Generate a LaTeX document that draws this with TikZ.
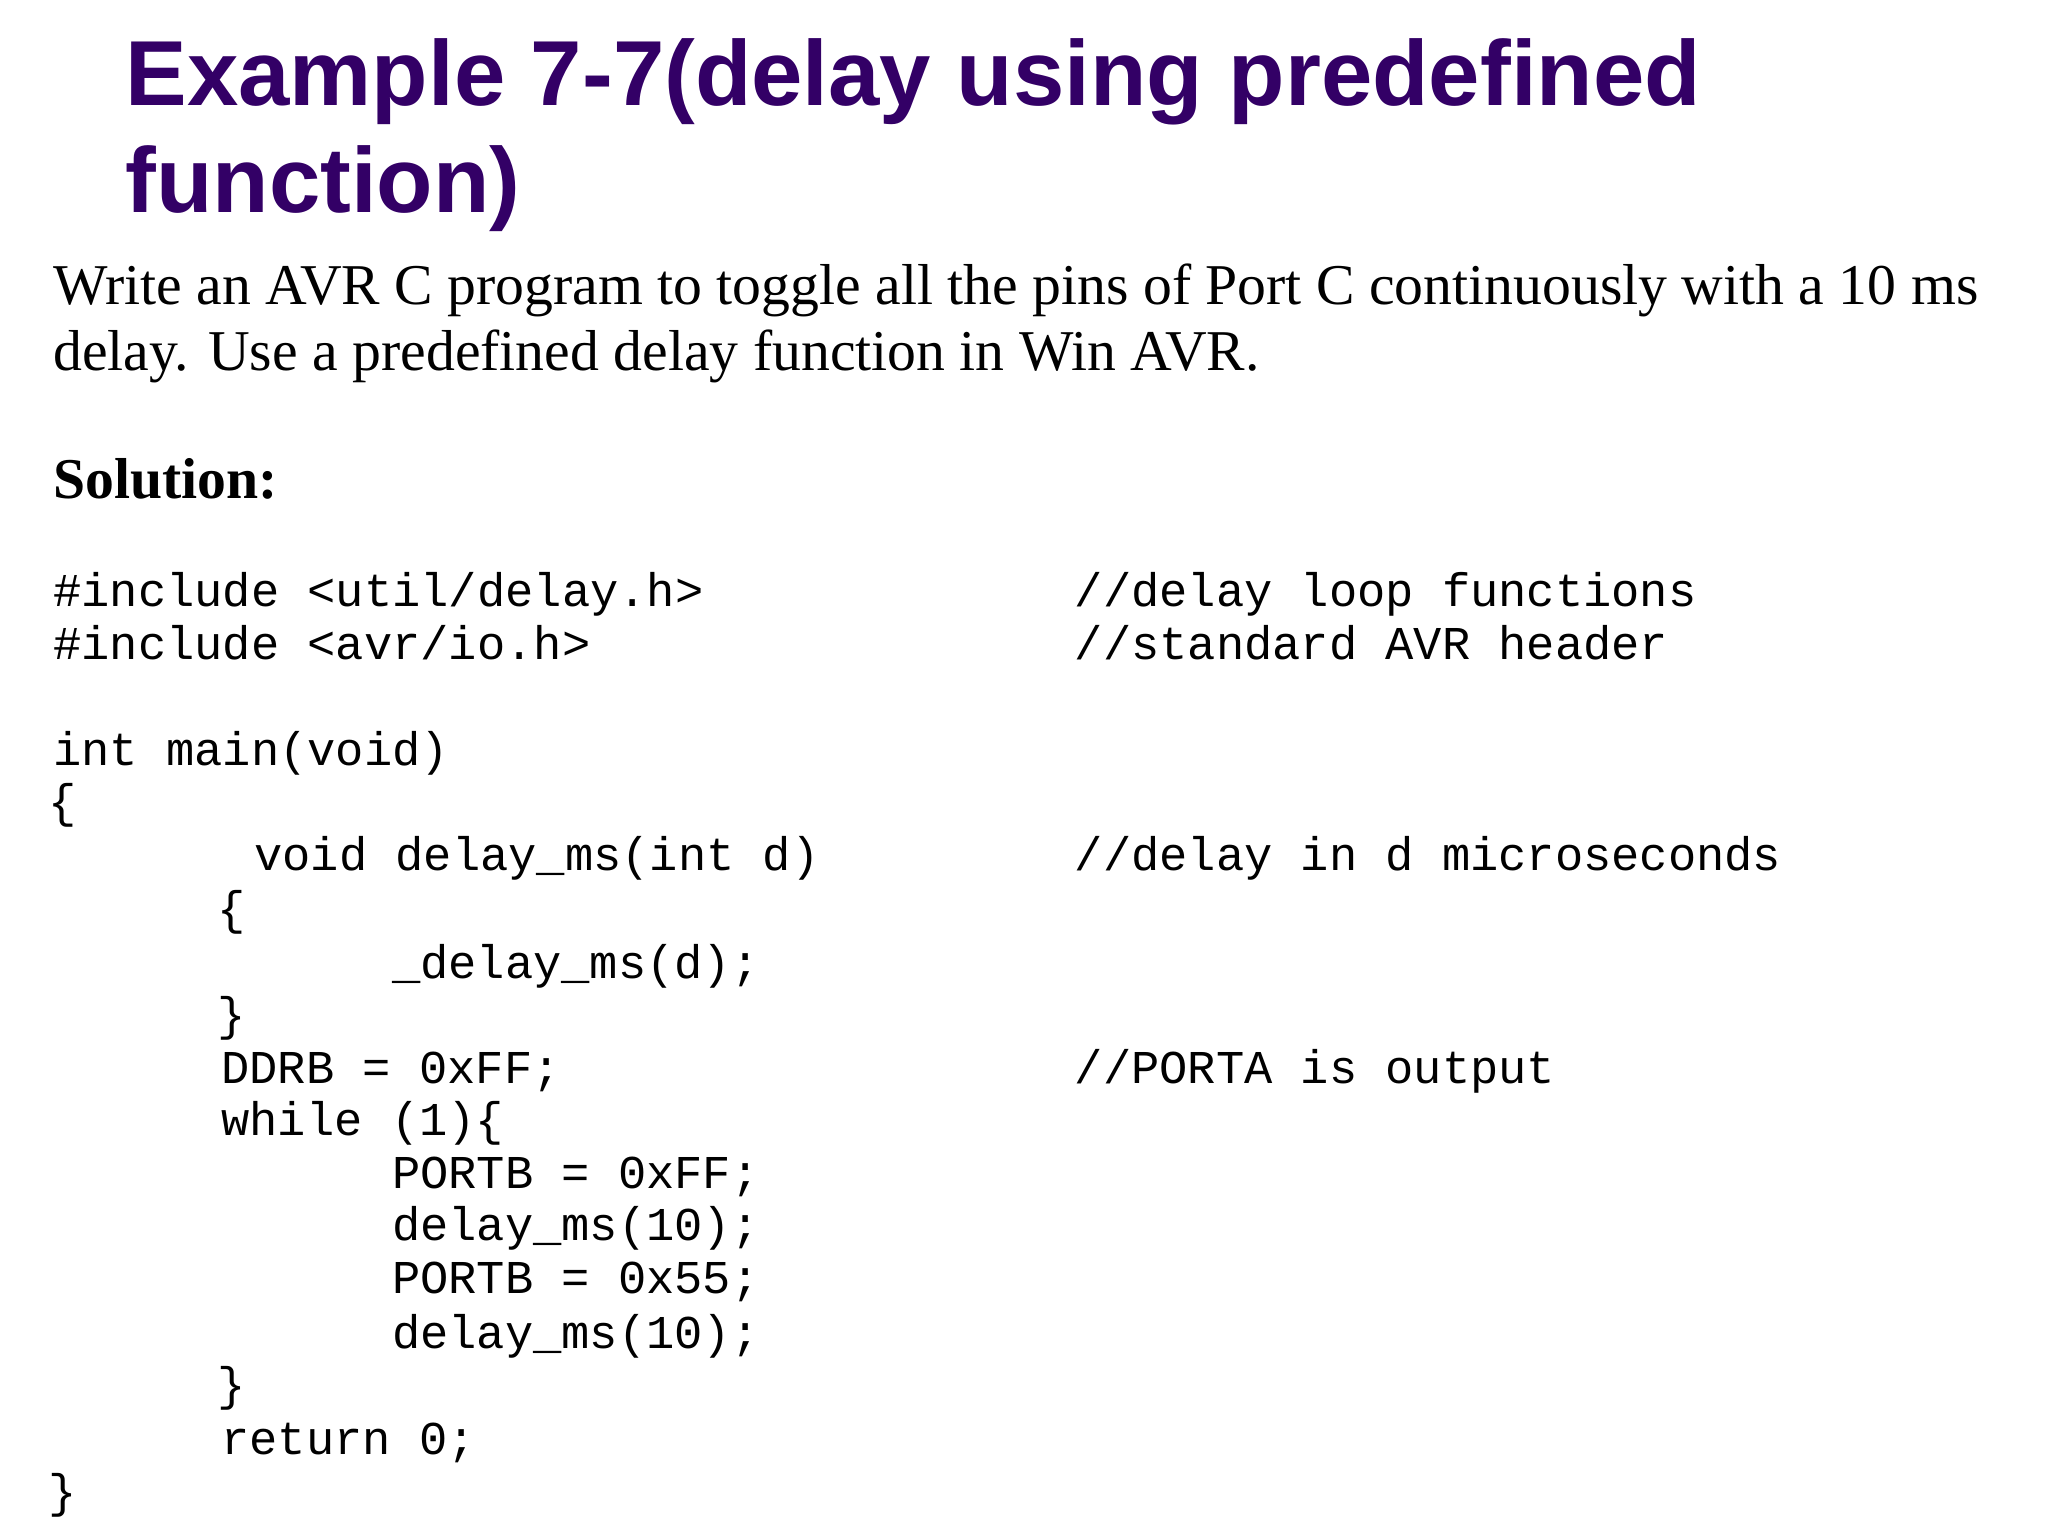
\documentclass[tikz,border=0pt]{standalone}
\usepackage{fontspec}
\setmainfont{Liberation Serif}
\newfontfamily\titlefont{Liberation Sans}
\newfontfamily\codefont{Liberation Mono}
\definecolor{ttl}{HTML}{330066}
\begin{document}
\begin{tikzpicture}[x=0.01cm,y=-0.01cm,
  tt/.style={anchor=base west,inner sep=0,text=ttl,font=\titlefont\bfseries\fontsize{20}{24}\selectfont},
  bt/.style={anchor=base west,inner sep=0,font=\fontsize{12.5}{15}\selectfont},
  cd/.style={anchor=base west,inner sep=0,font=\codefont\fontsize{10.2}{12}\selectfont}]
\useasboundingbox (0,0) rectangle (1560,1170);
\node[tt] (t1) at (95,80) {Example 7-7(delay using predefined};
\node[tt] (t2) at (95,162) {function)};
\node[bt] (b1) at (40,232) {Write an AVR C program to toggle all the pins of Port C continuously with a 10 ms};
\node[bt] (b2) at (40,282) {delay. Use a predefined delay function in Win AVR.};
\node[bt,font=\fontsize{12.5}{15}\selectfont\bfseries] (sol) at (40,380) {Solution:};
\node[cd] (c1) at (40,462) {\#include <util/delay.h>};
\node[cd] (m1) at (818,462) {//delay loop functions};
\node[cd] (c2) at (40,502) {\#include <avr/io.h>};
\node[cd] (m2) at (818,502) {//standard AVR header};
\node[cd] (c3) at (40,583) {int main(void)};
\node[cd] (c4) at (36,623) {\{};
\node[cd] (c5) at (193,663) {void delay\_ms(int d)};
\node[cd] (m5) at (818,663) {//delay in d microseconds};
\node[cd] (c6) at (165,704) {\{};
\node[cd] (c7) at (298,745) {\_delay\_ms(d);};
\node[cd] (c8) at (165,785) {\}};
\node[cd] (c9) at (168,825) {DDRB = 0xFF;};
\node[cd] (m9) at (818,825) {//PORTA is output};
\node[cd] (c10) at (168,865) {while (1)\{};
\node[cd] (c11) at (298,905) {PORTB = 0xFF;};
\node[cd] (c12) at (298,945) {delay\_ms(10);};
\node[cd] (c13) at (298,985) {PORTB = 0x55;};
\node[cd] (c14) at (298,1027) {delay\_ms(10);};
\node[cd] (c15) at (165,1067) {\}};
\node[cd] (c16) at (168,1108) {return 0;};
\node[cd] (c17) at (36,1148) {\}};
\end{tikzpicture}
\end{document}
